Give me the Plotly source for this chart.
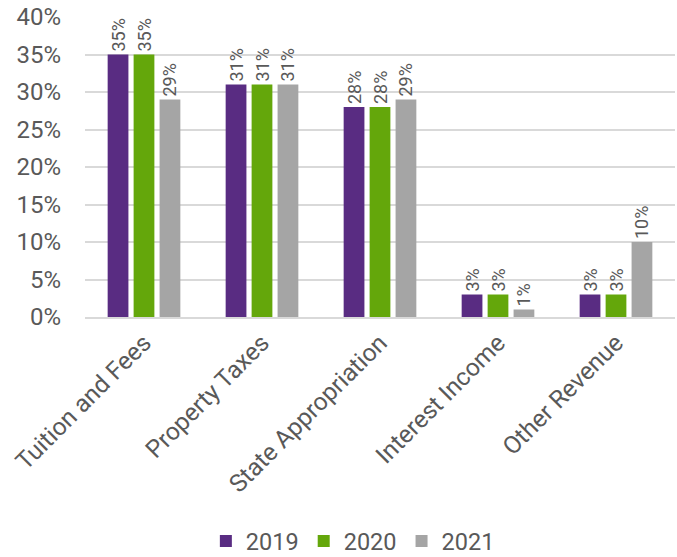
import plotly.graph_objects as go

categories = ["Tuition and Fees", "Property Taxes", "State Appropriation", "Interest Income", "Other Revenue"]
years = ["2019", "2020", "2021"]
values_2019 = [35, 31, 28, 3, 3]
values_2020 = [35, 31, 28, 3, 3]
values_2021 = [29, 31, 29, 1, 10]
colors = ["#592C82", "#64A70B", "#A5A5A5"]

series = [values_2019, values_2020, values_2021]
text_color = "#595959"
font_family = "Roboto"

fig = go.Figure()
for name, vals, col in zip(years, series, colors):
    fig.add_trace(go.Bar(
        x=categories, y=vals, name=name,
        marker=dict(color=col, line=dict(width=0)),
        text=[f"{v}%" for v in vals],
        textposition="outside", textangle=-90,
        textfont=dict(family=font_family, size=18, color=text_color),
        constraintext="none", cliponaxis=False,
    ))

fig.update_layout(
    width=677, height=557,
    margin=dict(l=85, r=2, t=17, b=240, autoexpand=False),
    paper_bgcolor="white", plot_bgcolor="white",
    barmode="group", bargap=0.34, bargroupgap=0.2,
    font=dict(family=font_family, color=text_color),
    showlegend=True,
    legend=dict(orientation="h", x=0.454, xanchor="center", y=-0.747, yanchor="middle",
                font=dict(size=23.5, color=text_color), traceorder="normal",
                itemwidth=30),
    yaxis=dict(range=[0, 40], dtick=5, ticksuffix="%", showgrid=True,
               gridcolor="#D9D9D9", gridwidth=1.5, zeroline=False,
               showline=False, tickfont=dict(size=24, color=text_color),
               ticklabelstandoff=23, ticklabeloverflow="allow"),
    xaxis=dict(tickangle=-45, showline=True, linecolor="#D9D9D9", linewidth=1.5,
               tickfont=dict(size=24.5, color=text_color)),
)

fig.write_html(
    "out.html",
    config={"displayModeBar": False},
    post_script="document.body.style.margin='0px';document.body.style.overflow='hidden';",
)
